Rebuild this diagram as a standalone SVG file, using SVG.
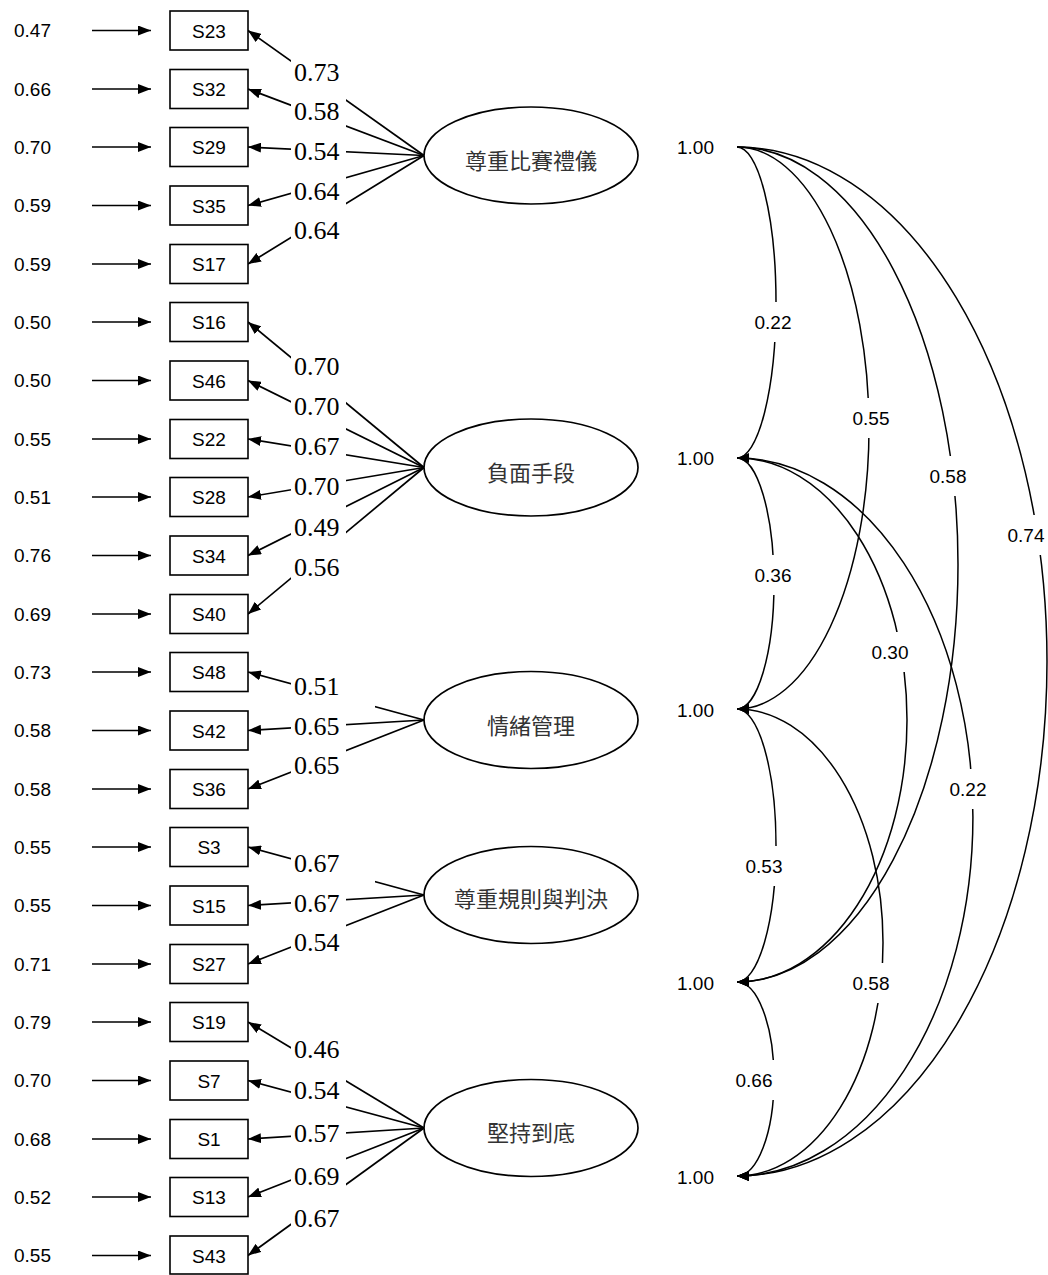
<svg xmlns="http://www.w3.org/2000/svg" width="1048" height="1275" viewBox="0 0 1048 1275">
<style>
.bg{fill:#fff}
.ln{stroke:#000;stroke-width:1.7;fill:none}
.cv{stroke:#000;stroke-width:1.5;fill:none}
.box{fill:#fff;stroke:#000;stroke-width:1.6}
.ell{fill:#fff;stroke:#000;stroke-width:1.7}
.sans{font-family:"Liberation Sans",Arial,sans-serif;font-size:19px;fill:#000}
.serif{font-family:"Liberation Serif","Times New Roman",serif;font-size:26px;fill:#000}
.cjk{font-family:"Noto Sans CJK TC","Noto Sans CJK SC",sans-serif;font-size:22px;fill:#333;text-anchor:middle}
.mid{text-anchor:middle}
.lb{fill:#fff}
</style>
<defs>
<marker id="ah" viewBox="0 0 13 10" refX="13" refY="5" markerWidth="13" markerHeight="10" markerUnits="userSpaceOnUse" orient="auto"><path d="M0,0 L13,5 L0,10 z" fill="#000"/></marker>
<marker id="ch" viewBox="0 0 12 10" refX="12" refY="5" markerWidth="12" markerHeight="10" markerUnits="userSpaceOnUse" orient="auto"><path d="M0,0 L12,5 L0,10 z" fill="#000"/></marker>
</defs>
<rect class="bg" x="0" y="0" width="1048" height="1275"/>

<g id="connectors">
<!-- residual arrows -->
<g class="ln" marker-end="url(#ah)">
<line x1="92" y1="30.5" x2="151" y2="30.5"/>
<line x1="92" y1="89" x2="151" y2="89"/>
<line x1="92" y1="147" x2="151" y2="147"/>
<line x1="92" y1="205.5" x2="151" y2="205.5"/>
<line x1="92" y1="264" x2="151" y2="264"/>
<line x1="92" y1="322" x2="151" y2="322"/>
<line x1="92" y1="380.5" x2="151" y2="380.5"/>
<line x1="92" y1="439" x2="151" y2="439"/>
<line x1="92" y1="497" x2="151" y2="497"/>
<line x1="92" y1="555.5" x2="151" y2="555.5"/>
<line x1="92" y1="614" x2="151" y2="614"/>
<line x1="92" y1="672" x2="151" y2="672"/>
<line x1="92" y1="730.5" x2="151" y2="730.5"/>
<line x1="92" y1="789" x2="151" y2="789"/>
<line x1="92" y1="847" x2="151" y2="847"/>
<line x1="92" y1="905.5" x2="151" y2="905.5"/>
<line x1="92" y1="964" x2="151" y2="964"/>
<line x1="92" y1="1022" x2="151" y2="1022"/>
<line x1="92" y1="1080.5" x2="151" y2="1080.5"/>
<line x1="92" y1="1139" x2="151" y2="1139"/>
<line x1="92" y1="1197" x2="151" y2="1197"/>
<line x1="92" y1="1255.5" x2="151" y2="1255.5"/>
</g>
<!-- loading arrows -->
<g class="ln" marker-end="url(#ah)">
<line x1="424" y1="155.5" x2="248" y2="30.5"/>
<line x1="424" y1="155.5" x2="248" y2="89"/>
<line x1="424" y1="155.5" x2="248" y2="147"/>
<line x1="424" y1="155.5" x2="248" y2="205.5"/>
<line x1="424" y1="155.5" x2="248" y2="264"/>
<line x1="424" y1="467.5" x2="248" y2="322"/>
<line x1="424" y1="467.5" x2="248" y2="380.5"/>
<line x1="424" y1="467.5" x2="248" y2="439"/>
<line x1="424" y1="467.5" x2="248" y2="497"/>
<line x1="424" y1="467.5" x2="248" y2="555.5"/>
<line x1="424" y1="467.5" x2="248" y2="614"/>
<line x1="424" y1="720" x2="248" y2="672"/>
<line x1="424" y1="720" x2="248" y2="730.5"/>
<line x1="424" y1="720" x2="248" y2="789"/>
<line x1="424" y1="895" x2="248" y2="847"/>
<line x1="424" y1="895" x2="248" y2="905.5"/>
<line x1="424" y1="895" x2="248" y2="964"/>
<line x1="424" y1="1128" x2="248" y2="1022"/>
<line x1="424" y1="1128" x2="248" y2="1080.5"/>
<line x1="424" y1="1128" x2="248" y2="1139"/>
<line x1="424" y1="1128" x2="248" y2="1197"/>
<line x1="424" y1="1128" x2="248" y2="1255.5"/>
</g>
<!-- loading labels -->
<g class="lb">
<rect x="291" y="52" width="55" height="42"/>
<rect x="291" y="91" width="55" height="42"/>
<rect x="291" y="131" width="55" height="42"/>
<rect x="291" y="171" width="55" height="42"/>
<rect x="291" y="210" width="55" height="40"/>
<rect x="291" y="346" width="55" height="42"/>
<rect x="291" y="386" width="55" height="42"/>
<rect x="291" y="426" width="55" height="42"/>
<rect x="291" y="466" width="55" height="42"/>
<rect x="291" y="507" width="55" height="42"/>
<rect x="291" y="547" width="55" height="40"/>
<rect x="291" y="665" width="84" height="43"/>
<rect x="291" y="706" width="55" height="42"/>
<rect x="291" y="745" width="55" height="40"/>
<rect x="291" y="843" width="84" height="42"/>
<rect x="291" y="883" width="55" height="42"/>
<rect x="291" y="922" width="55" height="40"/>
<rect x="291" y="1029" width="55" height="42"/>
<rect x="291" y="1070" width="55" height="45"/>
<rect x="291" y="1113" width="55" height="45"/>
<rect x="291" y="1156" width="55" height="44"/>
<rect x="291" y="1198" width="55" height="40"/>
</g>
<g class="serif">
<text x="294" y="81">0.73</text>
<text x="294" y="120">0.58</text>
<text x="294" y="160">0.54</text>
<text x="294" y="200">0.64</text>
<text x="294" y="239">0.64</text>
<text x="294" y="375">0.70</text>
<text x="294" y="415">0.70</text>
<text x="294" y="455">0.67</text>
<text x="294" y="495">0.70</text>
<text x="294" y="536">0.49</text>
<text x="294" y="576">0.56</text>
<text x="294" y="695">0.51</text>
<text x="294" y="735">0.65</text>
<text x="294" y="774">0.65</text>
<text x="294" y="872">0.67</text>
<text x="294" y="912">0.67</text>
<text x="294" y="951">0.54</text>
<text x="294" y="1058">0.46</text>
<text x="294" y="1099">0.54</text>
<text x="294" y="1142">0.57</text>
<text x="294" y="1185">0.69</text>
<text x="294" y="1227">0.67</text>
</g>
<!-- correlation curves -->
<g class="cv" marker-end="url(#ch)">
<path d="M737 147 A39 155.5 0 0 1 737 458"/>
<path d="M737 147 A132 281 0 0 1 737 709"/>
<path d="M737 147 A221 417.5 0 0 1 737 982"/>
<path d="M737 147 A310 514.5 0 0 1 737 1176"/>
<path d="M737 458 A37 125.5 0 0 1 737 709"/>
<path d="M737 458 A170 262 0 0 1 737 982"/>
<path d="M737 458 A236 359 0 0 1 737 1176"/>
<path d="M737 709 A39 136.5 0 0 1 737 982"/>
<path d="M737 709 A146 233.5 0 0 1 737 1176"/>
<path d="M737 982 A37 97 0 0 1 737 1176"/>
</g>
<g class="lb">
<rect x="738" y="302" width="70" height="40"/>
<rect x="836" y="398" width="70" height="40"/>
<rect x="913" y="456" width="70" height="40"/>
<rect x="991" y="515" width="70" height="40"/>
<rect x="738" y="555" width="70" height="40"/>
<rect x="855" y="632" width="70" height="40"/>
<rect x="933" y="769" width="70" height="40"/>
<rect x="729" y="846" width="70" height="40"/>
<rect x="836" y="963" width="70" height="40"/>
<rect x="719" y="1060" width="70" height="40"/>
</g>
<g class="sans mid">
<text x="773" y="329">0.22</text>
<text x="871" y="425">0.55</text>
<text x="948" y="483">0.58</text>
<text x="1026" y="542">0.74</text>
<text x="773" y="582">0.36</text>
<text x="890" y="659">0.30</text>
<text x="968" y="796">0.22</text>
<text x="764" y="873">0.53</text>
<text x="871" y="990">0.58</text>
<text x="754" y="1087">0.66</text>
</g>
</g>

<g id="residual-labels" class="sans">
<text x="14" y="37">0.47</text>
<text x="14" y="95.5">0.66</text>
<text x="14" y="153.5">0.70</text>
<text x="14" y="212">0.59</text>
<text x="14" y="270.5">0.59</text>
<text x="14" y="328.5">0.50</text>
<text x="14" y="387">0.50</text>
<text x="14" y="445.5">0.55</text>
<text x="14" y="503.5">0.51</text>
<text x="14" y="562">0.76</text>
<text x="14" y="620.5">0.69</text>
<text x="14" y="678.5">0.73</text>
<text x="14" y="737">0.58</text>
<text x="14" y="795.5">0.58</text>
<text x="14" y="853.5">0.55</text>
<text x="14" y="912">0.55</text>
<text x="14" y="970.5">0.71</text>
<text x="14" y="1028.5">0.79</text>
<text x="14" y="1087">0.70</text>
<text x="14" y="1145.5">0.68</text>
<text x="14" y="1203.5">0.52</text>
<text x="14" y="1262">0.55</text>
</g>

<g id="indicators">
<g id="S23"><rect class="box" x="170" y="11" width="78" height="39"/><text class="sans mid" x="209" y="37.5">S23</text></g>
<g id="S32"><rect class="box" x="170" y="69.5" width="78" height="39"/><text class="sans mid" x="209" y="96">S32</text></g>
<g id="S29"><rect class="box" x="170" y="127.5" width="78" height="39"/><text class="sans mid" x="209" y="154">S29</text></g>
<g id="S35"><rect class="box" x="170" y="186" width="78" height="39"/><text class="sans mid" x="209" y="212.5">S35</text></g>
<g id="S17"><rect class="box" x="170" y="244.5" width="78" height="39"/><text class="sans mid" x="209" y="271">S17</text></g>
<g id="S16"><rect class="box" x="170" y="302.5" width="78" height="39"/><text class="sans mid" x="209" y="329">S16</text></g>
<g id="S46"><rect class="box" x="170" y="361" width="78" height="39"/><text class="sans mid" x="209" y="387.5">S46</text></g>
<g id="S22"><rect class="box" x="170" y="419.5" width="78" height="39"/><text class="sans mid" x="209" y="446">S22</text></g>
<g id="S28"><rect class="box" x="170" y="477.5" width="78" height="39"/><text class="sans mid" x="209" y="504">S28</text></g>
<g id="S34"><rect class="box" x="170" y="536" width="78" height="39"/><text class="sans mid" x="209" y="562.5">S34</text></g>
<g id="S40"><rect class="box" x="170" y="594.5" width="78" height="39"/><text class="sans mid" x="209" y="621">S40</text></g>
<g id="S48"><rect class="box" x="170" y="652.5" width="78" height="39"/><text class="sans mid" x="209" y="679">S48</text></g>
<g id="S42"><rect class="box" x="170" y="711" width="78" height="39"/><text class="sans mid" x="209" y="737.5">S42</text></g>
<g id="S36"><rect class="box" x="170" y="769.5" width="78" height="39"/><text class="sans mid" x="209" y="796">S36</text></g>
<g id="S3"><rect class="box" x="170" y="827.5" width="78" height="39"/><text class="sans mid" x="209" y="854">S3</text></g>
<g id="S15"><rect class="box" x="170" y="886" width="78" height="39"/><text class="sans mid" x="209" y="912.5">S15</text></g>
<g id="S27"><rect class="box" x="170" y="944.5" width="78" height="39"/><text class="sans mid" x="209" y="971">S27</text></g>
<g id="S19"><rect class="box" x="170" y="1002.5" width="78" height="39"/><text class="sans mid" x="209" y="1029">S19</text></g>
<g id="S7"><rect class="box" x="170" y="1061" width="78" height="39"/><text class="sans mid" x="209" y="1087.5">S7</text></g>
<g id="S1"><rect class="box" x="170" y="1119.5" width="78" height="39"/><text class="sans mid" x="209" y="1146">S1</text></g>
<g id="S13"><rect class="box" x="170" y="1177.5" width="78" height="39"/><text class="sans mid" x="209" y="1204">S13</text></g>
<g id="S43"><rect class="box" x="170" y="1236" width="78" height="38"/><text class="sans mid" x="209" y="1262.5">S43</text></g>
</g>

<g id="factors">
<g id="F1"><ellipse class="ell" cx="531" cy="155.5" rx="107" ry="48.5"/><text class="cjk" x="531" y="169">尊重比賽禮儀</text></g>
<g id="F2"><ellipse class="ell" cx="531" cy="467.5" rx="107" ry="48.5"/><text class="cjk" x="531" y="481">負面手段</text></g>
<g id="F3"><ellipse class="ell" cx="531" cy="720" rx="107" ry="48.5"/><text class="cjk" x="531" y="734">情緒管理</text></g>
<g id="F4"><ellipse class="ell" cx="531" cy="895" rx="107" ry="48.5"/><text class="cjk" x="531" y="907">尊重規則與判決</text></g>
<g id="F5"><ellipse class="ell" cx="531" cy="1128" rx="107" ry="48.5"/><text class="cjk" x="531" y="1141">堅持到底</text></g>
</g>

<g id="factor-variances" class="sans">
<text x="677" y="154">1.00</text>
<text x="677" y="465">1.00</text>
<text x="677" y="717">1.00</text>
<text x="677" y="990">1.00</text>
<text x="677" y="1184">1.00</text>
</g>
</svg>
